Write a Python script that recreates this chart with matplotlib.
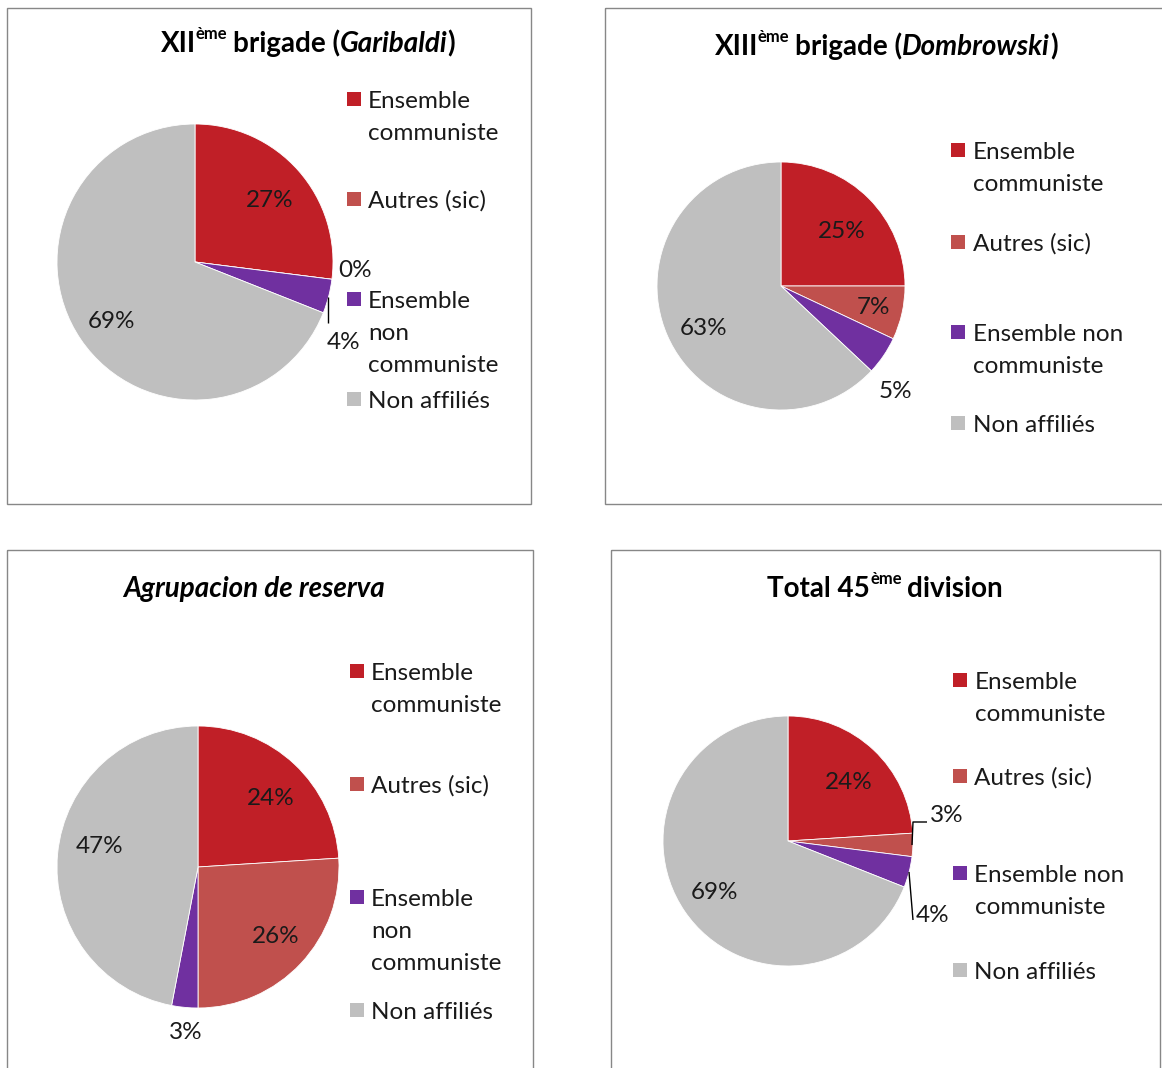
import matplotlib
matplotlib.use("Agg")
import matplotlib.pyplot as plt
from matplotlib.patches import Rectangle
from matplotlib.transforms import Affine2D

# ---------------- data ----------------
categories = ["Ensemble communiste", "Autres (sic)", "Ensemble non communiste", "Non affiliés"]
colors = ["#C01F27", "#C0504D", "#7030A0", "#BFBFBF"]

garibaldi = [27, 0, 4, 69]
dombrowski = [25, 7, 5, 63]
reserva = [24, 26, 3, 47]
total45 = [24, 3, 4, 69]

# ---------------- figure ----------------
W, H = 1162, 1068
FONT = "Lato"
plt.rcParams["font.family"] = [FONT, "DejaVu Sans"]
fig = plt.figure(figsize=(W / 100, H / 100), dpi=100)
fig.patch.set_facecolor("white")
# pixel transform, origin top-left, y downward
PX = Affine2D().scale(1.0 / W, -1.0 / H).translate(0, 1) + fig.transFigure

FS = 17.5      # legend / label size
TFS = 20.0     # title size
PITCH = 32.3   # legend line pitch
CAP = FS * 100 / 72 * 0.7165   # cap height in px
HALF = CAP / 2.0

panels = [
    dict(values=garibaldi,
         box=(7, 8, 524, 496),
         pie=(195, 262, 138),
         title=[("XII", "normal", False, False), ("ème", "normal", True, False),
                ("brigade (", "normal", False, True), ("Garibaldi", "italic", False, False),
                (")", "normal", False, False)],
         title_pos=(308, 52),
         labels=[(270, 198), (355.5, 268), (344, 340), (111.5, 319)],
         leaders=[[], [], [(0.964, -0.254), (0.964, -0.442)], []],
         leg=dict(mx=347, tx=368, ys=[99, 199, 299, 399],
                  lines=[["Ensemble", "communiste"], ["Autres (sic)"],
                         ["Ensemble", "non", "communiste"], ["Non affiliés"]])),
    dict(values=dombrowski,
         box=(605, 8, 600, 496),
         pie=(781, 286, 124),
         title=[("XIII", "normal", False, False), ("ème", "normal", True, False),
                ("brigade (", "normal", False, True), ("Dombrowski", "italic", False, False),
                (")", "normal", False, False)],
         title_pos=(886, 55),
         labels=[(842, 229), (873, 305), (895.5, 389), (704, 326)],
         leaders=[[], [], [], []],
         leg=dict(mx=951, tx=973, ys=[150, 242, 332, 423],
                  lines=[["Ensemble", "communiste"], ["Autres (sic)"],
                         ["Ensemble non", "communiste"], ["Non affiliés"]])),
    dict(values=reserva,
         box=(7, 550, 526, 600),
         pie=(198, 867, 141),
         title=[("Agrupacion de reserva", "italic", False, False)],
         title_pos=(254, 597),
         labels=[(271, 796), (275.5, 934), (186, 1030), (100, 844)],
         leaders=[[], [], [], []],
         leg=dict(mx=349.5, tx=371, ys=[671, 784, 897, 1010],
                  lines=[["Ensemble", "communiste"], ["Autres (sic)"],
                         ["Ensemble", "non", "communiste"], ["Non affiliés"]])),
    dict(values=total45,
         box=(611, 550, 549, 600),
         pie=(788, 841, 125),
         title=[("Total 45", "normal", False, False), ("ème", "normal", True, False),
                ("division", "normal", False, True)],
         title_pos=(885, 597),
         labels=[(848.5, 780.5), (947, 813), (933, 913.5), (714, 890.5)],
         leaders=[[], [(0.992, -0.032), (1.0, 0.152), (1.112, 0.152)],
                  [(0.968, -0.248), (1.0, -0.632)], []],
         leg=dict(mx=952.6, tx=974.5, ys=[680, 776, 873, 970],
                  lines=[["Ensemble", "communiste"], ["Autres (sic)"],
                         ["Ensemble non", "communiste"], ["Non affiliés"]])),
]

renderer = fig.canvas.get_renderer()


def text_width(s, **kw):
    t = fig.text(0, 0, s, **kw)
    w = t.get_window_extent(renderer).width
    t.remove()
    return w


def rich_title(pieces, xc, ybase, size):
    sp = text_width("x x", fontsize=size, fontweight="bold") - text_width("xx", fontsize=size, fontweight="bold")
    items = []
    x = 0.0
    prev_sup = False
    for s, style, sup, space_before in pieces:
        fs = size * 0.6 if sup else size
        if space_before:
            x += sp * (0.65 if prev_sup else 1.0)
        w = text_width(s, fontsize=fs, fontweight="bold", fontstyle=style)
        items.append((x, s, fs, style, sup))
        x += w + (1.0 if sup else 0)
        prev_sup = sup
    total = x
    x0 = xc - total / 2
    for dx, s, fs, style, sup in items:
        yb = ybase - (size * 100 / 72 * 0.47 if sup else 0)
        fig.text(x0 + dx, yb, s, fontsize=fs, fontweight="bold", fontstyle=style,
                 ha="left", va="baseline", transform=PX, color="black")


for p in panels:
    bx, by, bw, bh = p["box"]
    fig.add_artist(Rectangle((bx, by), bw, bh, transform=PX, fill=False,
                             edgecolor="#878787", linewidth=1.0))
    cx, cy, r = p["pie"]
    ax = fig.add_axes([(cx - r) / W, 1 - (cy + r) / H, 2 * r / W, 2 * r / H])
    wedges, _ = ax.pie(p["values"], colors=colors, startangle=90, counterclock=False,
                       wedgeprops=dict(edgecolor="white", linewidth=0.6))
    ax.set_xlim(-1, 1)
    ax.set_ylim(-1, 1)
    ax.set_aspect("auto")
    ax.axis("off")
    for v, (lx, ly) in zip(p["values"], p["labels"]):
        fig.text(lx, ly + HALF, f"{v}%", fontsize=FS, ha="center", va="baseline",
                 color="#1a1a1a", transform=PX)
    for pts in p["leaders"]:
        if pts:
            ax.plot([q[0] for q in pts], [q[1] for q in pts], color="black",
                    linewidth=1.0, clip_on=False, solid_capstyle="butt")
    rich_title(p["title"], p["title_pos"][0], p["title_pos"][1], TFS)
    lg = p["leg"]
    for i, lines in enumerate(lg["lines"]):
        yc = lg["ys"][i]
        fig.add_artist(Rectangle((lg["mx"], yc - 7), 14, 14, transform=PX,
                                 facecolor=colors[i], edgecolor="none"))
        for j, line in enumerate(lines):
            fig.text(lg["tx"], yc + HALF + j * PITCH, line, fontsize=FS, ha="left",
                     va="baseline", transform=PX, color="#1a1a1a")

fig.savefig("out.png", dpi=100, facecolor="white")
